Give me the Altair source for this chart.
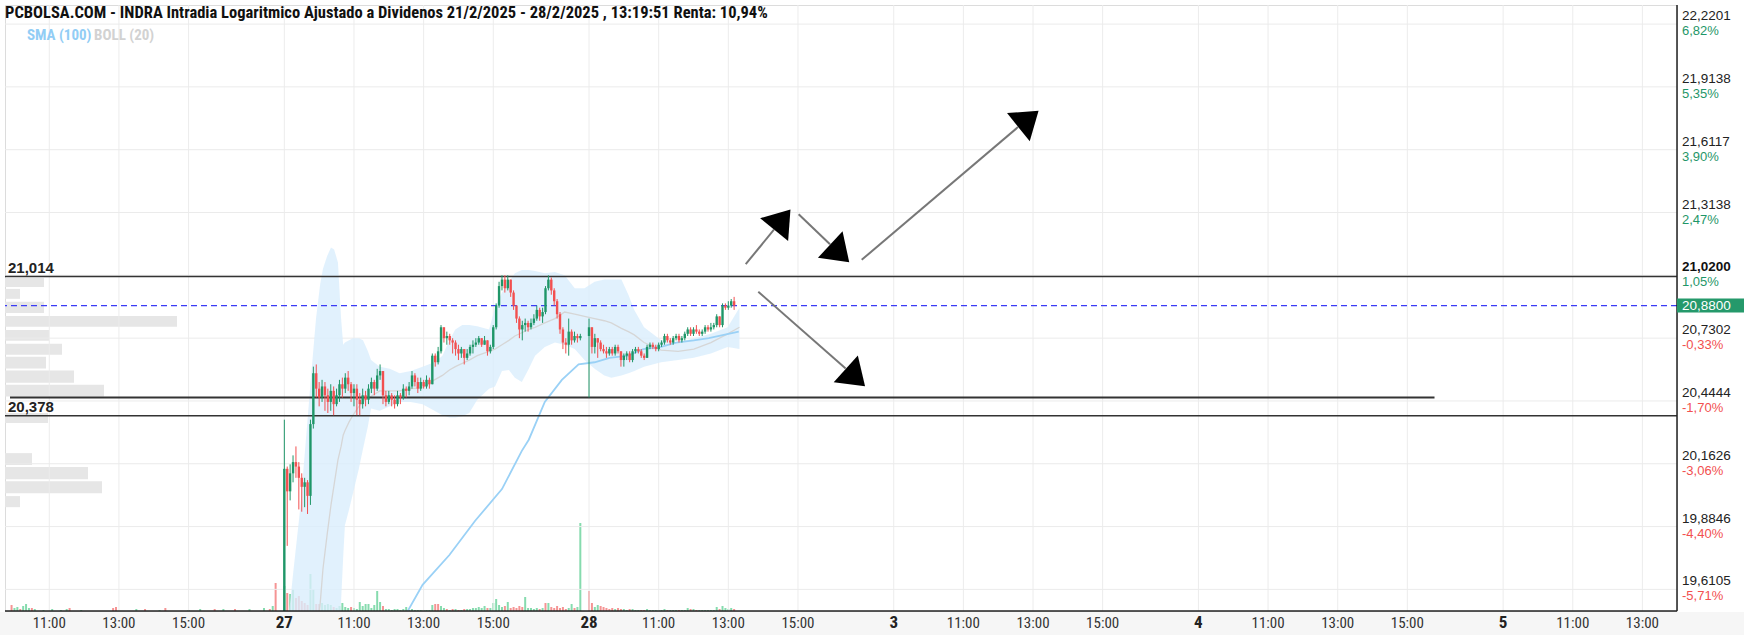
import altair as alt
import pandas as pd

# ---------------- data ----------------
title_text = ("PCBOLSA.COM - INDRA Intradia Logaritmico Ajustado a Dividenos "
              "21/2/2025 - 28/2/2025 , 13:19:51 Renta: 10,94%")

DAY_LEN = 8.75          # one trading session on the compressed time axis (hours)
day_names = ["26", "27", "28", "3", "4", "5"]
hour_names = ["11:00", "13:00", "15:00"]
hour_offsets = [2, 4, 6]

price_ticks = [22.2201, 21.9138, 21.6117, 21.3138, 21.0200,
               20.7302, 20.4444, 20.1626, 19.8846, 19.6105]
pct_ticks = [6.82, 5.35, 3.90, 2.47, 1.05, -0.33, -1.70, -3.06, -4.40, -5.71]
last_price = 20.88

# 5-minute candles, 27 Feb (9:00 ... 17:30)
open27_first = 19.45
close27 = [20.14, 20.04, 20.12, 20.17, 20.15, 20.10, 20.06, 20.08, 20.02, 20.34,
           20.57, 20.50, 20.46, 20.51, 20.47, 20.44, 20.49, 20.43, 20.47, 20.52,
           20.50, 20.55, 20.52, 20.48, 20.50, 20.45, 20.43, 20.47, 20.45, 20.50,
           20.53, 20.50, 20.56, 20.58, 20.47, 20.44, 20.47, 20.45, 20.43, 20.47,
           20.46, 20.50, 20.49, 20.51, 20.56, 20.53, 20.50, 20.53, 20.51, 20.54,
           20.52, 20.65, 20.62, 20.67, 20.78, 20.73, 20.74, 20.72, 20.71, 20.68,
           20.66, 20.68, 20.64, 20.66, 20.69, 20.70, 20.71, 20.73, 20.70, 20.72,
           20.67, 20.69, 20.78, 20.88, 20.97, 21.00, 20.96, 21.00, 20.94, 20.88,
           20.82, 20.77, 20.79, 20.80, 20.78, 20.80, 20.82, 20.86, 20.83, 20.85,
           20.96, 21.00, 20.95, 20.90, 20.84, 20.77, 20.71, 20.70, 20.76, 20.72,
           20.74, 20.73, 20.74]
high27 = [20.36, 20.15, 20.16, 20.20, 20.24, 20.17, 20.12, 20.10, 20.09, 20.36,
          20.60, 20.61, 20.53, 20.54, 20.53, 20.50, 20.52, 20.51, 20.50, 20.54,
          20.55, 20.57, 20.58, 20.53, 20.52, 20.52, 20.48, 20.50, 20.49, 20.52,
          20.55, 20.54, 20.59, 20.61, 20.58, 20.49, 20.49, 20.48, 20.47, 20.49,
          20.48, 20.52, 20.51, 20.53, 20.58, 20.57, 20.55, 20.55, 20.54, 20.56,
          20.55, 20.66, 20.66, 20.69, 20.79, 20.78, 20.76, 20.75, 20.73, 20.72,
          20.70, 20.69, 20.68, 20.68, 20.70, 20.72, 20.73, 20.74, 20.73, 20.74,
          20.72, 20.70, 20.79, 20.89, 20.99, 21.02, 21.02, 21.02, 21.00, 20.95,
          20.88, 20.83, 20.81, 20.82, 20.81, 20.82, 20.84, 20.88, 20.87, 20.87,
          20.97, 21.02, 21.01, 20.96, 20.91, 20.85, 20.78, 20.73, 20.82, 20.77,
          20.76, 20.75, 20.75]
low27 = [19.40, 19.80, 20.00, 20.08, 20.10, 19.96, 19.95, 19.97, 19.94, 19.98,
         20.32, 20.46, 20.42, 20.44, 20.40, 20.39, 20.40, 20.38, 20.42, 20.44,
         20.46, 20.48, 20.49, 20.44, 20.42, 20.38, 20.38, 20.41, 20.42, 20.43,
         20.48, 20.47, 20.49, 20.54, 20.43, 20.42, 20.43, 20.42, 20.41, 20.42,
         20.43, 20.45, 20.46, 20.47, 20.50, 20.51, 20.48, 20.49, 20.50, 20.50,
         20.50, 20.52, 20.60, 20.61, 20.66, 20.71, 20.70, 20.70, 20.66, 20.65,
         20.63, 20.64, 20.61, 20.63, 20.65, 20.66, 20.69, 20.70, 20.69, 20.70,
         20.65, 20.66, 20.68, 20.77, 20.87, 20.95, 20.94, 20.95, 20.92, 20.86,
         20.80, 20.73, 20.72, 20.76, 20.76, 20.77, 20.79, 20.81, 20.81, 20.80,
         20.84, 20.95, 20.93, 20.88, 20.82, 20.75, 20.68, 20.66, 20.65, 20.70,
         20.71, 20.71, 20.72]

# 5-minute candles, 28 Feb (9:00 ... 13:10)
open28_first = 20.74
close28 = [20.78, 20.69, 20.73, 20.71, 20.68, 20.67, 20.66, 20.68, 20.66, 20.69,
           20.67, 20.63, 20.65, 20.66, 20.63, 20.67, 20.68, 20.67, 20.65, 20.64,
           20.69, 20.70, 20.69, 20.68, 20.70, 20.71, 20.74, 20.72, 20.71, 20.73,
           20.74, 20.72, 20.73, 20.75, 20.77, 20.75, 20.77, 20.76, 20.75, 20.76,
           20.78, 20.77, 20.78, 20.79, 20.83, 20.79, 20.88, 20.87, 20.88, 20.90,
           20.88]
high28 = [20.82, 20.78, 20.75, 20.73, 20.72, 20.70, 20.69, 20.69, 20.69, 20.70,
          20.70, 20.67, 20.66, 20.67, 20.67, 20.68, 20.69, 20.69, 20.68, 20.66,
          20.70, 20.71, 20.71, 20.70, 20.71, 20.72, 20.75, 20.75, 20.73, 20.74,
          20.75, 20.75, 20.74, 20.76, 20.78, 20.78, 20.78, 20.79, 20.77, 20.77,
          20.79, 20.79, 20.80, 20.80, 20.84, 20.83, 20.89, 20.89, 20.90, 20.91,
          20.92]
low28 = [20.46, 20.66, 20.66, 20.64, 20.67, 20.66, 20.64, 20.65, 20.65, 20.65,
         20.66, 20.60, 20.60, 20.63, 20.62, 20.62, 20.66, 20.66, 20.64, 20.63,
         20.64, 20.68, 20.68, 20.67, 20.67, 20.69, 20.70, 20.71, 20.70, 20.70,
         20.72, 20.71, 20.71, 20.72, 20.74, 20.74, 20.74, 20.75, 20.74, 20.74,
         20.75, 20.76, 20.76, 20.77, 20.78, 20.78, 20.78, 20.86, 20.86, 20.87,
         20.86]

# volume per 5-minute bar (sign: + rising bar, - falling bar), arbitrary units
vol26_first_bar = 11       # 9:55 on 26 Feb
vol26 = [-6, 3, 4, -2, 5, 7, 3, -3, 2, 0,
         0, 1, 0, 0, 2, 0, 0, 1, 0, 2,
         -3, 0, 0, 0, 1, 0, 0, 0, 0, 0,
         0, 0, 0, 0, 0, -3, -4, 0, 0, 0,
         0, 0, 0, 2, 0, 0, -2, 0, 0, 0,
         0, 1, 0, -3, 0, 0, 0, 0, 0, 0,
         0, 1, 0, 0, 0, 2, 0, 0, 0, 0,
         -2, 0, 0, 2, 0, 0, 0, -2, 0, 0,
         0, 0, 2, 0, 0, 0, 0, 3, 0, -2,
         5, -28]
vol27 = [25, -18, 17, 22, -13, -15, -10, -8, -6, 37,
         22, -7, -7, 8, 6, 7, 6, -4, 3, 5,
         8, 4, 3, -4, 3, 2, 9, 5, 7, 7,
         3, 6, 20, 9, -5, 2, 2, 1, 2, 2,
         1, 2, 4, 1, 2, 1, 1, 1, 1, 1,
         1, 6, -7, -7, 5, 3, -2, 1, -2, 2,
         -1, 1, -2, 2, 2, 3, 3, 4, 3, 5,
         -3, 3, 8, 12, 6, 4, -5, 9, -3, -4,
         -3, -5, -4, 14, 3, 3, 2, 3, -2, 3,
         -8, 8, -4, -3, -5, -3, -4, -2, 3, 7,
         -3, 4, 88]
vol28 = [-20, -8, 4, 6, -5, -4, -3, -2, -3, 2,
         -3, -2, 2, 1, -2, 2, 1, 1, -1, -1,
         2, 1, 1, 1, 1, 1, 2, -1, 1, 1,
         1, -1, 1, 1, 3, -2, 2, -1, 1, 1,
         1, 1, 1, 1, 4, -2, 5, 3, 2, 3,
         -2]

# Bollinger (20) band and SMA(100), read at sample times (hour index on the axis)
band_x = [8.81, 9.01, 9.21, 9.38, 9.52, 9.66, 9.78, 9.86, 9.98, 10.09,
          10.18, 10.29, 10.38, 10.44, 10.49, 10.61, 10.72, 10.89, 11.01, 11.15,
          11.24, 11.49, 11.78, 12.06, 12.38, 12.72, 13.06, 13.29, 13.49, 13.66,
          13.86, 14.06, 14.29, 14.63, 14.80, 15.00, 15.20, 15.37, 15.57, 15.77,
          15.95, 16.23, 16.52, 16.80, 17.09, 17.37, 17.66, 17.94, 18.14, 18.43,
          18.63, 18.80, 19.08, 19.57, 20.06, 20.51, 21.00, 21.48, 21.82]
band_up = [19.40, 19.69, 19.97, 20.29, 20.56, 20.82, 20.98, 21.05, 21.11, 21.15,
           21.14, 21.08, 20.82, 20.70, 20.71, 20.72, 20.73, 20.73, 20.72, 20.67,
           20.63, 20.60, 20.59, 20.57, 20.58, 20.60, 20.62, 20.65, 20.72, 20.77,
           20.79, 20.79, 20.785, 20.77, 20.87, 20.94, 20.99, 21.03, 21.045, 21.045,
           21.04, 21.03, 21.035, 21.02, 20.96, 20.96, 20.99, 21.00, 21.00, 21.00,
           20.93, 20.86, 20.78, 20.72, 20.71, 20.73, 20.75, 20.78, 20.87]
band_mid = [19.30, 19.30, 19.30, 19.30, 19.30, 19.40, 19.55, 19.70, 19.85, 19.98,
            20.07, 20.18, 20.24, 20.29, 20.31, 20.35, 20.38, 20.42, 20.44, 20.46,
            20.465, 20.49, 20.49, 20.49, 20.50, 20.505, 20.54, 20.56, 20.585, 20.60,
            20.615, 20.63, 20.65, 20.67, 20.68, 20.70, 20.72, 20.74, 20.755, 20.77,
            20.78, 20.80, 20.82, 20.85, 20.84, 20.83, 20.82, 20.81, 20.80, 20.775,
            20.76, 20.745, 20.71, 20.675, 20.67, 20.68, 20.71, 20.75, 20.78]
band_lo = [19.30, 19.30, 19.30, 19.30, 19.30, 19.30, 19.30, 19.30, 19.30, 19.30,
           19.30, 19.30, 19.56, 19.75, 19.89, 19.96, 20.03, 20.14, 20.23, 20.33,
           20.41, 20.40, 20.42, 20.44, 20.44, 20.43, 20.40, 20.38, 20.37, 20.37,
           20.375, 20.39, 20.45, 20.50, 20.51, 20.58, 20.585, 20.55, 20.53, 20.59,
           20.65, 20.69, 20.71, 20.70, 20.68, 20.63, 20.59, 20.56, 20.55, 20.56,
           20.57, 20.58, 20.60, 20.62, 20.63, 20.64, 20.66, 20.69, 20.68]
sma100_x = [12.23, 12.72, 13.49, 14.23, 15.00, 15.57, 15.77, 16.23, 16.72, 17.20,
            17.66, 18.09, 18.63, 19.06, 19.57, 20.00, 20.51, 20.94, 21.80]
sma100_y = [19.50, 19.63, 19.76, 19.91, 20.05, 20.22, 20.27, 20.44, 20.54, 20.61,
            20.62, 20.64, 20.65, 20.68, 20.69, 20.71, 20.72, 20.73, 20.76]

# volume-at-price profile (left edge)
prof_lo = [20.966, 20.911, 20.846, 20.782, 20.718, 20.654, 20.591, 20.527, 20.464,
           20.345, 20.157, 20.094, 20.032, 19.970]
prof_hi = [21.008, 20.957, 20.897, 20.832, 20.768, 20.704, 20.645, 20.582, 20.518,
           20.390, 20.210, 20.148, 20.085, 20.019]
prof_vol = [39, 15, 39, 172, 44, 57, 41, 69, 99, 43, 27, 83, 97, 15]

# drawn levels
level_full = [21.014, 20.378]
level_labels = ["21,014", "20,378"]
support_level = 20.46
support_from, support_to = 0.872, 41.78

# drawn arrows (start -> end of shaft, head centre)
arrow_x0 = [22.00, 23.52, 25.33, 22.36]
arrow_y0 = [21.072, 21.306, 21.092, 20.944]
arrow_x1 = [22.81, 24.42, 29.82, 24.87]
arrow_y1 = [21.233, 21.165, 21.720, 20.591]
head_x = [23.05, 24.70, 30.12, 25.15]
head_y = [21.281, 21.122, 21.759, 20.550]
head_angle = [39, 133, 51, 132]

# ---------------- layout / style ----------------
W, H = 1672, 606
X_DOM = [0.872, 48.6]
Y_DOM = [19.517, 22.314]
GREEN, RED = "#1f9668", "#f25050"
VGREEN, VRED = "#86dbae", "#f59494"
NARROW = "Liberation Sans Narrow, Roboto Condensed, Roboto, sans-serif"
SANS = "Liberation Sans, Arial, sans-serif"

xs = alt.Scale(domain=X_DOM, nice=False, zero=False)
ys = alt.Scale(type="log", domain=Y_DOM, nice=False, zero=False)
X = lambda f: alt.X(f, scale=xs, axis=None)
Y = lambda f: alt.Y(f, scale=ys, axis=None)

# candles
rows = []
prev = open27_first
for i, (c, h, l) in enumerate(zip(close27, high27, low27)):
    rows.append(dict(x=DAY_LEN * 1 + i / 12, o=prev, h=h, l=l, c=c))
    prev = c
prev = open28_first
for i, (c, h, l) in enumerate(zip(close28, high28, low28)):
    rows.append(dict(x=DAY_LEN * 2 + i / 12, o=prev, h=h, l=l, c=c))
    prev = c
candles = pd.DataFrame(rows)
candles["up"] = candles["c"] >= candles["o"]

vrows = []
for i, v in enumerate(vol26):
    vrows.append(dict(x=(vol26_first_bar + i) / 12, v=abs(v), up=v >= 0))
for i, v in enumerate(vol27):
    vrows.append(dict(x=DAY_LEN + i / 12, v=abs(v), up=v >= 0))
for i, v in enumerate(vol28):
    vrows.append(dict(x=2 * DAY_LEN + i / 12, v=abs(v), up=v >= 0))
vol = pd.DataFrame(vrows)

band = pd.DataFrame(dict(x=band_x, up=band_up, mid=band_mid, lo=band_lo))
sma = pd.DataFrame(dict(x=sma100_x, y=sma100_y))
prof = pd.DataFrame(dict(lo=prof_lo, hi=prof_hi, v=prof_vol, z=[0] * len(prof_vol)))

# time-axis ticks
trows = []
for d, name in enumerate(day_names):
    start = d * DAY_LEN
    if X_DOM[0] <= start <= X_DOM[1]:
        trows.append(dict(x=start, t=name, day=True))
    for off, hn in zip(hour_offsets, hour_names):
        if X_DOM[0] <= start + off <= X_DOM[1]:
            trows.append(dict(x=start + off, t=hn, day=False))
ticks = pd.DataFrame(trows)

ptick = pd.DataFrame(dict(
    y=price_ticks,
    t=[("%.4f" % p).replace(".", ",") for p in price_ticks],
    pct=[("%.2f%%" % p).replace(".", ",") for p in pct_ticks],
    pos=[p >= 0 for p in pct_ticks],
    bold=[abs(p - 21.02) < 1e-9 for p in price_ticks]))

one = pd.DataFrame({"a": [0]})

# ---------------- layers ----------------
footer = alt.Chart(one).mark_rect(color="#f6f6f6").encode(
    x=alt.value(-5), x2=alt.value(W + 67), y=alt.value(H + 1), y2=alt.value(H + 24))

xgrid = alt.Chart(ticks).mark_rule(color="#ececec", strokeWidth=1).encode(x=X("x:Q"))
ygrid = alt.Chart(ptick).mark_rule(color="#ebebeb", strokeWidth=1).encode(y=Y("y:Q"))

band_area = alt.Chart(band).mark_area(color="#d9edfc", opacity=0.8, clip=True).encode(
    x=X("x:Q"), y=Y("lo:Q"), y2="up:Q")
mid_line = alt.Chart(band).mark_line(color="#d6d6d6", strokeWidth=1.3, clip=True).encode(
    x=X("x:Q"), y=Y("mid:Q"))
sma_line = alt.Chart(sma).mark_line(color="#9ad1f6", strokeWidth=1.8, clip=True).encode(
    x=X("x:Q"), y=Y("y:Q"))

levels = alt.Chart(pd.DataFrame(dict(y=level_full, t=level_labels)))
level_rules = levels.mark_rule(color="#333", strokeWidth=1.5).encode(y=Y("y:Q"))
level_text = levels.mark_text(align="left", baseline="bottom", dy=-1, fontSize=15,
                              fontWeight="bold", font=SANS, color="#222").encode(
    x=alt.value(3), y=Y("y:Q"), text="t:N")
support = alt.Chart(pd.DataFrame(dict(x=[support_from], x2=[support_to],
                                      y=[support_level]))).mark_rule(
    color="#333", strokeWidth=2).encode(x=X("x:Q"), x2="x2:Q", y=Y("y:Q"))
last_rule = alt.Chart(pd.DataFrame(dict(y=[last_price]))).mark_rule(
    color="#3b3bf5", strokeWidth=1.3, strokeDash=[6, 4]).encode(y=Y("y:Q"))

updown = alt.Color("up:N", scale=alt.Scale(domain=[True, False], range=[GREEN, RED]),
                   legend=None)
wicks = alt.Chart(candles).mark_rule(strokeWidth=1, clip=True).encode(
    x=X("x:Q"), y=Y("l:Q"), y2="h:Q", color=updown)
bodies = alt.Chart(candles).mark_bar(size=2.4, clip=True).encode(
    x=X("x:Q"), y=Y("o:Q"), y2="c:Q", color=updown)

arrows = pd.DataFrame(dict(x0=arrow_x0, y0=arrow_y0, x1=arrow_x1, y1=arrow_y1))
shafts = alt.Chart(arrows).mark_rule(color="#777", strokeWidth=2).encode(
    x=X("x0:Q"), y=Y("y0:Q"), x2="x1:Q", y2="y1:Q")
heads = alt.Chart(pd.DataFrame(dict(x=head_x, y=head_y, a=head_angle))).mark_point(
    shape="M0,-0.72L1,0.72L-1,0.72Z", filled=True, size=1300, color="#000",
    opacity=1).encode(x=X("x:Q"), y=Y("y:Q"), angle=alt.Angle("a:Q", scale=None))

title = alt.Chart(pd.DataFrame(dict(t=[title_text]))).mark_text(
    align="left", baseline="middle", fontSize=16.5, fontWeight="bold", font=NARROW,
    color="#111").encode(x=alt.value(0), y=alt.value(8), text="t:N")
leg_sma = alt.Chart(pd.DataFrame(dict(t=["SMA (100)"]))).mark_text(
    align="left", baseline="middle", fontSize=15, fontWeight="bold", font=NARROW,
    color="#92cdf5").encode(x=alt.value(22), y=alt.value(30), text="t:N")
leg_boll = alt.Chart(pd.DataFrame(dict(t=["BOLL (20)"]))).mark_text(
    align="left", baseline="middle", fontSize=15, fontWeight="bold", font=NARROW,
    color="#d2d2d2").encode(x=alt.value(89), y=alt.value(30), text="t:N")

# axis frame lines
x_domain = alt.Chart(one).mark_rule(color="#222", strokeWidth=1.5).encode(
    x=alt.value(0), x2=alt.value(W), y=alt.value(H))
y_domain = alt.Chart(one).mark_rule(color="#222", strokeWidth=1.5).encode(
    x=alt.value(W), y=alt.value(0), y2=alt.value(H))

# time labels
hour_text = alt.Chart(ticks).transform_filter("!datum.day").mark_text(
    baseline="middle", fontSize=15, font=NARROW, color="#333").encode(
    x=X("x:Q"), y=alt.value(H + 12), text="t:N")
day_text = alt.Chart(ticks).transform_filter("datum.day").mark_text(
    baseline="middle", fontSize=17, fontWeight="bold", font=NARROW, color="#222").encode(
    x=X("x:Q"), y=alt.value(H + 12), text="t:N")

# price labels (right)
price_norm = alt.Chart(ptick).transform_filter("!datum.bold").mark_text(
    align="left", baseline="bottom", dy=-1, fontSize=13.5, font=SANS, color="#222").encode(
    x=alt.value(W + 5), y=Y("y:Q"), text="t:N")
price_bold = alt.Chart(ptick).transform_filter("datum.bold").mark_text(
    align="left", baseline="bottom", dy=-1, fontSize=13.5, font=SANS, fontWeight="bold",
    color="#111").encode(x=alt.value(W + 5), y=Y("y:Q"), text="t:N")
pct_text = alt.Chart(ptick).mark_text(align="left", baseline="top", dy=1, fontSize=13,
                                      font=SANS).encode(
    x=alt.value(W + 5), y=Y("y:Q"), text="pct:N",
    color=alt.Color("pos:N", scale=alt.Scale(domain=[True, False],
                                             range=["#2e9e6e", "#f55a5a"]), legend=None))
last_df = pd.DataFrame(dict(y=[last_price],
                            t=[("%.4f" % last_price).replace(".", ",")]))
last_box = alt.Chart(last_df).mark_rule(color="#25996b", strokeWidth=14).encode(
    x=alt.value(W), x2=alt.value(W + 67), y=Y("y:Q"))
last_text = alt.Chart(last_df).mark_text(align="left", baseline="middle", fontSize=13.5,
                                         font=SANS, color="white").encode(
    x=alt.value(W + 5), y=Y("y:Q"), text="t:N")

main = alt.layer(footer, xgrid, ygrid, band_area, mid_line, sma_line, level_rules,
                 support, last_rule, wicks, bodies, shafts, heads, level_text, title,
                 leg_sma, leg_boll, x_domain, y_domain, hour_text, day_text,
                 price_norm, price_bold, pct_text, last_box, last_text)

vol_layer = alt.Chart(vol).mark_bar(size=2).encode(
    x=alt.X("x:Q", scale=xs, axis=None),
    y=alt.Y("v:Q", scale=alt.Scale(domain=[0, H]), axis=None),
    color=alt.Color("up:N", scale=alt.Scale(domain=[True, False], range=[VGREEN, VRED]),
                    legend=None))

prof_layer = alt.Chart(prof).mark_rect(color="#e6e6e6").encode(
    x=alt.X("z:Q", scale=alt.Scale(domain=[0, W]), axis=None), x2="v:Q",
    y=alt.Y("lo:Q", scale=ys, axis=None), y2="hi:Q")

chart = alt.layer(prof_layer, vol_layer, main).resolve_scale(
    x="independent", y="independent", color="independent").properties(
    width=W, height=H,
    padding={"left": 5, "top": 5, "right": 67, "bottom": 27},
    autosize=alt.AutoSizeParams(type="none"),
    background="white",
).configure_view(stroke="#dcdcdc")

chart.save("out.html", embed_options={"renderer": "svg", "actions": False})
